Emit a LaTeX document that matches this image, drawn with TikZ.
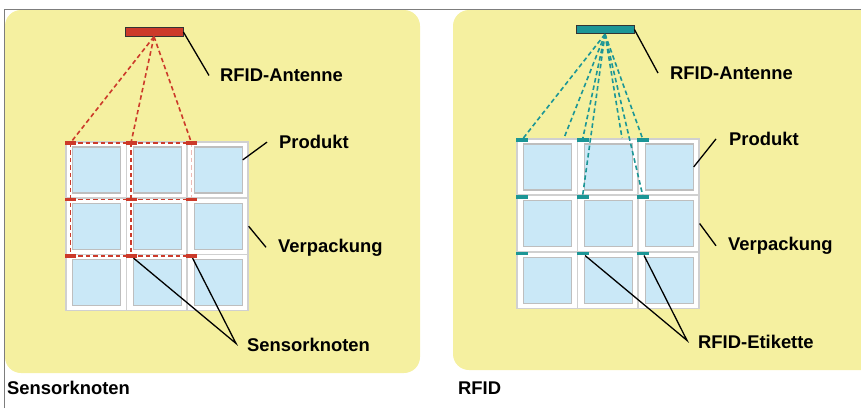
\documentclass[tikz,border=0pt]{standalone}
\usepackage{fontspec}
\setmainfont{Liberation Sans}
\definecolor{panelyellow}{RGB}{245,240,160}
\definecolor{senred}{RGB}{204,58,42}
\definecolor{rfidteal}{RGB}{28,150,150}
\definecolor{prodblue}{RGB}{202,232,247}
\definecolor{prodgray}{RGB}{190,190,190}
\definecolor{cellgray}{RGB}{208,208,208}
\definecolor{framegray}{RGB}{125,125,125}
\begin{document}
\begin{tikzpicture}[
  x=1pt, y=-1pt,
  panel/.style={fill=panelyellow, draw=none, rounded corners=16pt},
  cell/.style={draw=cellgray, line width=1.5pt, fill=white, inner sep=0pt,
    minimum width=60.7pt, minimum height=56.3pt, anchor=north west},
  product/.style={draw=prodgray, line width=1.2pt, fill=prodblue, inner sep=0pt,
    minimum width=48pt, minimum height=46pt},
  antenna/.style={draw=black!80, line width=0.8pt, inner sep=0pt,
    minimum width=58pt, minimum height=8.5pt},
  sensor/.style={fill=senred, inner sep=0pt, minimum width=11pt, minimum height=3.8pt},
  tag/.style={fill=rfidteal, inner sep=0pt, minimum width=12pt, minimum height=3.8pt},
  radio/.style={dashed, dash pattern=on 4.5pt off 3pt, line width=1.6pt},
  pointer/.style={draw=black, line width=1.3pt},
  label/.style={anchor=base west, inner sep=0pt, font=\fontsize{18.4}{22}\selectfont\bfseries}
]
  \clip (0,0) rectangle (861,408);

  % Rahmen und Hintergrund
  \draw[framegray, line width=1pt] (4,408) -- (4,9) -- (861,9);
  \fill[panel] (5,10) rectangle (420,373);
  \fill[panel] (453,10) rectangle (885,370);

  % Paletten: Verpackung und Produkte
  \foreach \r in {1,2,3}{
    \foreach \c in {1,2,3}{
      \node[cell] (L\r\c) at ({65+(\c-1)*60.7},{141+(\r-1)*56.3}) {};
      \node[product] (PL\r\c) at ([xshift=0.6pt]L\r\c.center) {};
      \coordinate (mL\r\c) at ({70.5+(\c-1)*60.5},{142.8+(\r-1)*56.6});
      \node[cell] (R\r\c) at ({516+(\c-1)*60.7},{138+(\r-1)*56.6}) {};
      \node[product] (PR\r\c) at ([xshift=0.6pt]R\r\c.center) {};
      \coordinate (mR\r\c) at ({522+(\c-1)*60.5},{139.8+(\r-1)*56.8});
    }
  }

  % Antennen
  \node[antenna, fill=senred] (antL) at (154,32) {};
  \node[antenna, fill=rfidteal] (antR) at (605,29.5) {};

  % Funkverbindungen Sensorknoten
  \foreach \c in {1,2,3}
    \draw[radio, senred] (antL.south) -- (mL1\c);
  \foreach \r in {1,2,3}
    \draw[radio, senred] (mL\r1) -- (mL\r3);
  \foreach \c in {1,2}
    \draw[radio, senred] (mL1\c) -- (mL3\c);
  \draw[radio, senred!35] (mL13) -- (mL23);

  % Funkverbindungen RFID
  \coordinate (tR1) at (564,138);
  \coordinate (tR2) at (622,138);
  \foreach \t in {mR11,tR1,mR12,mR22,tR2,mR13,mR23}
    \draw[radio, rfidteal] (antR.south) -- (\t);

  % Sensorknoten und Etiketten
  \foreach \r in {1,2,3}{
    \foreach \c in {1,2,3}{
      \node[sensor] (sL\r\c) at (mL\r\c) {};
      \node[tag] (sR\r\c) at (mR\r\c) {};
    }
  }

  % Beschriftungen links
  \node[label] (antLtxt) at (220,81.7) {RFID-Antenne};
  \node[label] (prodLtxt) at (279,148.7) {Produkt};
  \node[label] (verpLtxt) at (278,252) {Verpackung};
  \node[label] (sensLtxt) at (247,351.5) {Sensorknoten};
  \node[label] (capL) at (7,394.7) {Sensorknoten};

  \draw[pointer] (antL.east) -- ([xshift=-11pt]antLtxt.west);
  \draw[pointer] ([xshift=-12pt]prodLtxt.west) -- ([yshift=10pt]PL13.east);
  \draw[pointer] (L23.east) -- ([xshift=-12pt]verpLtxt.west);
  \draw[pointer] (sL32) -- ([xshift=-11pt,yshift=1.5pt]sensLtxt.west) -- (sL33);

  % Beschriftungen rechts
  \node[label] (antRtxt) at (670,79.3) {RFID-Antenne};
  \node[label] (prodRtxt) at (729,145.5) {Produkt};
  \node[label] (verpRtxt) at (728,250.5) {Verpackung};
  \node[label] (etikRtxt) at (698,348.5) {RFID-Etikette};
  \node[label] (capR) at (458,394.5) {RFID};

  \draw[pointer] (antR.east) -- ([xshift=-12pt]antRtxt.west);
  \draw[pointer] ([xshift=-13pt]prodRtxt.west) -- (PR13.east);
  \draw[pointer] (R23.east) -- ([xshift=-12pt]verpRtxt.west);
  \draw[pointer] (sR32) -- ([xshift=-11pt,yshift=1.5pt]etikRtxt.west) -- (sR33);

\end{tikzpicture}
\end{document}
